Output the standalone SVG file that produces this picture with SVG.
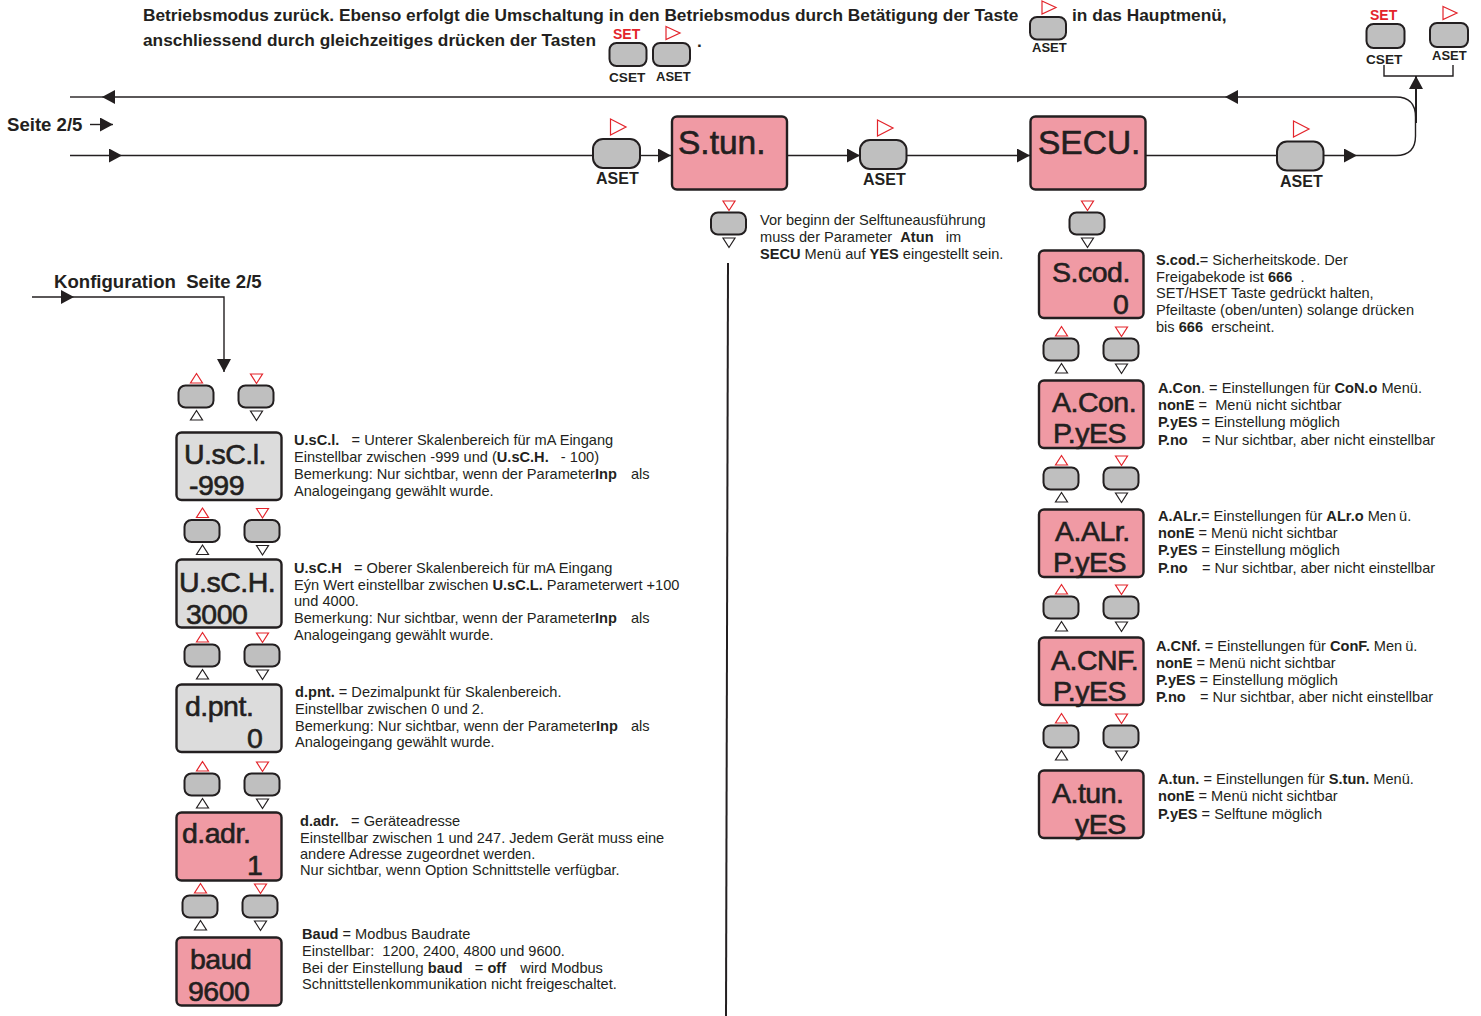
<svg xmlns="http://www.w3.org/2000/svg" width="1481" height="1016" viewBox="0 0 1481 1016">
<style>
text{font-family:"Liberation Sans",Arial,sans-serif;fill:#231f20;white-space:pre}
.b{font-weight:bold}
.t{font-size:14.6px}
.h{font-size:17.3px;font-weight:bold}
.k{font-size:18.6px;font-weight:bold}
.as{font-size:16px;font-weight:bold}
.sm{font-size:13px;font-weight:bold}
.cs{font-size:13.600px;font-weight:bold}
.st{font-size:14px;font-weight:bold;fill:#e3242b}
.d{font-size:28.500px;stroke:#231f20;stroke-width:.6;letter-spacing:-.5px}
.D{font-size:33.500px;stroke:#231f20;stroke-width:.6}
.box{stroke:#231f20;stroke-width:2.4}
.pink{fill:#f09aa4}
.grey{fill:#dcdcdc}
.btn{fill:#bfbfbf;stroke:#231f20;stroke-width:2}
.c{fill:none;stroke:#231f20;stroke-width:1.4}
.tr{fill:#fff;stroke:#e3242b;stroke-width:1.2}
.tk{fill:#fff;stroke:#231f20;stroke-width:1.2}
</style>
<defs>
<marker id="ah" markerUnits="userSpaceOnUse" markerWidth="14" markerHeight="14" refX="13" refY="7" orient="auto"><path d="M0 0L13 7L0 14z" fill="#231f20"/></marker>
<polygon id="up" points="-6,4.500 6,4.500 0,-5"/>
<polygon id="dn" points="-6,-4.500 6,-4.500 0,5"/>
<polygon id="rt" points="-7.500,-8 8,0 -7.500,8"/>
<polygon id="rts" points="-7,-6.500 7,0 -7,6.500"/>
<g id="pair">
<rect class="btn" x="0" y="0" width="35" height="22" rx="7"/>
<rect class="btn" x="60" y="0" width="35" height="22" rx="7"/>
<use href="#up" class="tr" x="18" y="-7"/>
<use href="#dn" class="tr" x="78" y="-7"/>
<use href="#up" class="tk" x="18" y="30"/>
<use href="#dn" class="tk" x="78" y="30"/>
</g>
<g id="single">
<rect class="btn" x="0" y="0" width="35" height="22" rx="7"/>
<use href="#dn" class="tr" x="18" y="-7"/>
<use href="#dn" class="tk" x="18" y="30"/>
</g>
</defs>

<g id="connectors">
<path class="c" d="M70 155.500H122" marker-end="url(#ah)"/>
<path class="c" d="M122 155.500H592"/>
<path class="c" d="M640 155.500H671" marker-end="url(#ah)"/>
<path class="c" d="M787 155.500H860" marker-end="url(#ah)"/>
<path class="c" d="M907 155.500H1030" marker-end="url(#ah)"/>
<path class="c" d="M1146 155.500H1276"/>
<path class="c" d="M1324 155.500H1357" marker-end="url(#ah)"/>
<path class="c" d="M1357 155.500H1396Q1415.500 155.500 1415.500 136V117Q1415.500 97 1396 97H1225" marker-end="url(#ah)"/>
<path class="c" d="M1225 97H102" marker-end="url(#ah)"/>
<path class="c" d="M102 97H70"/>
<path class="c" d="M90 124.500H113" marker-end="url(#ah)"/>
<path class="c" d="M32 297H74" marker-end="url(#ah)"/>
<path class="c" d="M74 297H224V372" marker-end="url(#ah)"/>
<path class="c" style="stroke-width:2" d="M1416 123V76" marker-end="url(#ah)"/>
<path class="c" d="M1384 65V76H1453V65"/>
<path class="c" style="stroke-width:2" d="M728 263L726 1016"/>
</g>

<g id="intro">
<text class="h" x="143" y="21">Betriebsmodus zurück. Ebenso erfolgt die Umschaltung in den Betriebsmodus durch Betätigung der Taste</text>
<text class="h" x="1072" y="21">in das Hauptmenü,</text>
<text class="h" x="143" y="46">anschliessend durch gleichzeitiges drücken der Tasten</text>
<text class="h" x="697" y="47">.</text>
</g>

<g id="key-intro-cset">
<rect class="btn" x="609.500" y="43" width="37" height="23" rx="7"/>
<text class="st" x="613" y="39">SET</text>
<text class="cs" x="609" y="82">CSET</text>
</g>
<g id="key-intro-aset">
<rect class="btn" x="653" y="43" width="37" height="23" rx="7"/>
<use href="#rts" class="tr" x="673" y="33"/>
<text class="sm" x="656" y="81">ASET</text>
</g>
<g id="key-intro-aset2">
<rect class="btn" x="1030" y="17" width="36" height="22.500" rx="7"/>
<use href="#rts" class="tr" x="1049" y="7.500"/>
<text class="sm" x="1032" y="52">ASET</text>
</g>
<g id="key-top-cset">
<rect class="btn" x="1366.500" y="24" width="38" height="24" rx="7"/>
<text class="st" x="1370" y="20">SET</text>
<text class="cs" x="1366" y="64">CSET</text>
</g>
<g id="key-top-aset">
<rect class="btn" x="1430" y="23" width="38" height="24" rx="7"/>
<use href="#rts" class="tr" x="1450" y="13"/>
<text class="sm" x="1432" y="60">ASET</text>
</g>

<g id="label-seite"><text class="k" x="7" y="131">Seite 2/5</text></g>
<g id="label-konfig"><text class="k" x="54" y="288">Konfiguration  Seite 2/5</text></g>

<g id="key-aset1">
<rect class="btn" x="593" y="139" width="47" height="29" rx="10"/>
<use href="#rt" class="tr" x="618" y="127"/>
<text class="as" x="596" y="184">ASET</text>
</g>
<g id="node-stun">
<rect class="box pink" x="672" y="116.500" width="115" height="73" rx="5"/>
<text class="D" x="678" y="154">S.tun.</text>
</g>
<g id="key-aset2">
<rect class="btn" x="860" y="140" width="46.500" height="29" rx="10"/>
<use href="#rt" class="tr" x="885" y="128"/>
<text class="as" x="863" y="185">ASET</text>
</g>
<g id="node-secu">
<rect class="box pink" x="1030.500" y="116.500" width="115" height="73" rx="5"/>
<text class="D" x="1038" y="154">SECU.</text>
</g>
<g id="key-aset3">
<rect class="btn" x="1277" y="141.500" width="46.500" height="29" rx="10"/>
<use href="#rt" class="tr" x="1301" y="129"/>
<text class="as" x="1280" y="187">ASET</text>
</g>

<g id="key-stun-dn"><use href="#single" x="711" y="212.500"/></g>
<g id="note-stun">
<text class="t" x="760" y="225">Vor beginn der Selftuneausführung</text>
<text class="t" x="760" y="242">muss der Parameter  <tspan class="b">Atun</tspan>   im</text>
<text class="t" x="760" y="259"><tspan class="b">SECU</tspan> Menü auf <tspan class="b">YES</tspan> eingestellt sein.</text>
</g>

<g id="key-secu-dn"><use href="#single" x="1069.500" y="212.500"/></g>

<g id="node-scod">
<rect class="box pink" x="1039" y="250.500" width="104.500" height="67.500" rx="5"/>
<text class="d" x="1052" y="282">S.cod.</text><text class="d" x="1113" y="314">0</text>
</g>
<g id="note-scod">
<text class="t" x="1156" y="265"><tspan class="b">S.cod.</tspan>= Sicherheitskode. Der</text>
<text class="t" x="1156" y="282">Freigabekode ist <tspan class="b">666</tspan>  .</text>
<text class="t" x="1156" y="298">SET/HSET Taste gedrückt halten,</text>
<text class="t" x="1156" y="315">Pfeiltaste (oben/unten) solange drücken</text>
<text class="t" x="1156" y="332">bis <tspan class="b">666</tspan>  erscheint.</text>
</g>
<g id="keys-scod"><use href="#pair" x="1043.500" y="338.500"/></g>

<g id="node-acon">
<rect class="box pink" x="1039" y="380.500" width="104.500" height="67.500" rx="5"/>
<text class="d" x="1052" y="412">A.Con.</text><text class="d" x="1053" y="443">P.yES</text>
</g>
<g id="note-acon">
<text class="t" x="1158" y="393"><tspan class="b">A.Con</tspan>. = Einstellungen für <tspan class="b">CoN.o</tspan> Menü.</text>
<text class="t" x="1158" y="410"><tspan class="b">nonE</tspan> =  Menü nicht sichtbar</text>
<text class="t" x="1158" y="427"><tspan class="b">P.yES</tspan> = Einstellung möglich</text>
<text class="t" x="1158" y="445"><tspan class="b">P.no</tspan>    <tspan dx="-2">= Nur sichtbar, aber nicht einstellbar</tspan></text>
</g>
<g id="keys-acon"><use href="#pair" x="1043.500" y="467.500"/></g>

<g id="node-aalr">
<rect class="box pink" x="1039" y="509.500" width="104.500" height="67.500" rx="5"/>
<text class="d" x="1055" y="541">A.ALr.</text><text class="d" x="1053" y="572">P.yES</text>
</g>
<g id="note-aalr">
<text class="t" x="1158" y="521"><tspan class="b">A.ALr.</tspan>= Einstellungen für <tspan class="b">ALr.o</tspan> Men<tspan dx="3">ü.</tspan></text>
<text class="t" x="1158" y="538"><tspan class="b">nonE</tspan> = Menü nicht sichtbar</text>
<text class="t" x="1158" y="555"><tspan class="b">P.yES</tspan> = Einstellung möglich</text>
<text class="t" x="1158" y="573"><tspan class="b">P.no</tspan>    <tspan dx="-2">= Nur sichtbar, aber nicht einstellbar</tspan></text>
</g>
<g id="keys-aalr"><use href="#pair" x="1043.500" y="596.500"/></g>

<g id="node-acnf">
<rect class="box pink" x="1039" y="637.500" width="104.500" height="67.500" rx="5"/>
<text class="d" x="1051" y="670">A.CNF.</text><text class="d" x="1053" y="701">P.yES</text>
</g>
<g id="note-acnf">
<text class="t" x="1156" y="651"><tspan class="b">A.CNf.</tspan> = Einstellungen für <tspan class="b">ConF.</tspan> Men<tspan dx="3">ü.</tspan></text>
<text class="t" x="1156" y="668"><tspan class="b">nonE</tspan> = Menü nicht sichtbar</text>
<text class="t" x="1156" y="685"><tspan class="b">P.yES</tspan> = Einstellung möglich</text>
<text class="t" x="1156" y="702"><tspan class="b">P.no</tspan>    <tspan dx="-2">= Nur sichtbar, aber nicht einstellbar</tspan></text>
</g>
<g id="keys-acnf"><use href="#pair" x="1043.500" y="725.500"/></g>

<g id="node-atun">
<rect class="box pink" x="1039" y="770.500" width="104.500" height="67.500" rx="5"/>
<text class="d" x="1052" y="803">A.tun.</text><text class="d" x="1075" y="834">yES</text>
</g>
<g id="note-atun">
<text class="t" x="1158" y="784"><tspan class="b">A.tun.</tspan> = Einstellungen für <tspan class="b">S.tun.</tspan> Menü.</text>
<text class="t" x="1158" y="801"><tspan class="b">nonE</tspan> = Menü nicht sichtbar</text>
<text class="t" x="1158" y="819"><tspan class="b">P.yES</tspan> = Selftune möglich</text>
</g>

<g id="keys-usc-l"><use href="#pair" x="178.500" y="385.500"/></g>
<g id="node-usc-l">
<rect class="box grey" x="176.500" y="432.500" width="105" height="67.500" rx="5"/>
<text class="d" x="184" y="464">U.sC.l.</text><text class="d" x="189" y="495">-999</text>
</g>
<g id="note-usc-l">
<text class="t" x="294" y="445"><tspan class="b">U.sC.l.</tspan>   = Unterer Skalenbereich für mA Eingang</text>
<text class="t" x="294" y="462">Einstellbar zwischen -999 und (<tspan class="b">U.sC.H.</tspan>   - 100)</text>
<text class="t" x="294" y="479">Bemerkung: Nur sichtbar, wenn der Parameter<tspan class="b">Inp</tspan>   <tspan dx="2">als</tspan></text>
<text class="t" x="294" y="496">Analogeingang gewählt wurde.</text>
</g>
<g id="keys-usc-l2"><use href="#pair" x="184.500" y="520"/></g>
<g id="node-usc-h">
<rect class="box grey" x="176.500" y="559.500" width="105" height="68" rx="5"/>
<text class="d" x="179" y="592">U.sC.H.</text><text class="d" x="186" y="624">3000</text>
</g>
<g id="note-usc-h">
<text class="t" x="294" y="573"><tspan class="b">U.sC.H</tspan>   = Oberer Skalenbereich für mA Eingang</text>
<text class="t" x="294" y="590">Eýn Wert einstellbar zwischen <tspan class="b">U.sC.L.</tspan> Parameterwert +100</text>
<text class="t" x="294" y="606">und 4000.</text>
<text class="t" x="294" y="623">Bemerkung: Nur sichtbar, wenn der Parameter<tspan class="b">Inp</tspan>   <tspan dx="2">als</tspan></text>
<text class="t" x="294" y="640">Analogeingang gewählt wurde.</text>
</g>
<g id="keys-usc-h"><use href="#pair" x="184.500" y="644.500"/></g>
<g id="node-dpnt">
<rect class="box grey" x="176.500" y="684.500" width="105" height="67.500" rx="5"/>
<text class="d" x="185" y="716">d.pnt.</text><text class="d" x="247" y="748">0</text>
</g>
<g id="note-dpnt">
<text class="t" x="295" y="697"><tspan class="b">d.pnt.</tspan> = Dezimalpunkt für Skalenbereich.</text>
<text class="t" x="295" y="714">Einstellbar zwischen 0 und 2.</text>
<text class="t" x="295" y="731">Bemerkung: Nur sichtbar, wenn der Parameter<tspan class="b">Inp</tspan>   <tspan dx="1">als</tspan></text>
<text class="t" x="295" y="747">Analogeingang gewählt wurde.</text>
</g>
<g id="keys-dpnt"><use href="#pair" x="184.500" y="773.500"/></g>
<g id="node-dadr">
<rect class="box pink" x="176.500" y="812.500" width="105" height="68" rx="5"/>
<text class="d" x="182" y="843">d.adr.</text><text class="d" x="247" y="875">1</text>
</g>
<g id="note-dadr">
<text class="t" x="300" y="826"><tspan class="b">d.adr.</tspan>   = Geräteadresse</text>
<text class="t" x="300" y="843">Einstellbar zwischen 1 und 247. Jedem Gerät muss eine</text>
<text class="t" x="300" y="859">andere Adresse zugeordnet werden.</text>
<text class="t" x="300" y="875">Nur sichtbar, wenn Option Schnittstelle verfügbar.</text>
</g>
<g id="keys-dadr"><use href="#pair" x="182.500" y="895.500"/></g>
<g id="node-baud">
<rect class="box pink" x="176.500" y="937.500" width="105" height="68" rx="5"/>
<text class="d" x="190" y="969">baud</text><text class="d" x="188" y="1001">9600</text>
</g>
<g id="note-baud">
<text class="t" x="302" y="939"><tspan class="b">Baud</tspan> = Modbus Baudrate</text>
<text class="t" x="302" y="956">Einstellbar:  1200, 2400, 4800 und 9600.</text>
<text class="t" x="302" y="973">Bei der Einstellung <tspan class="b">baud</tspan>   = <tspan class="b">off</tspan>   <tspan dx="2">wird Modbus</tspan></text>
<text class="t" x="302" y="989">Schnittstellenkommunikation nicht freigeschaltet.</text>
</g>
</svg>
